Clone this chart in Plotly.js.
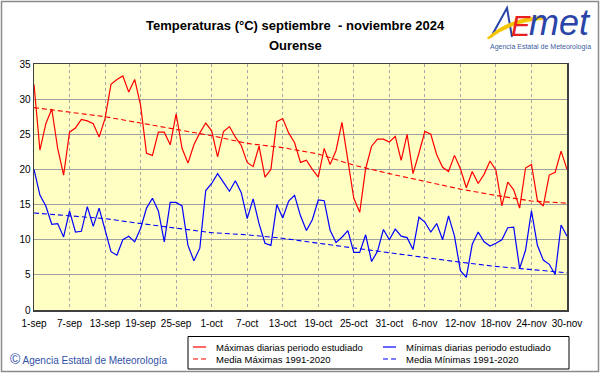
<!DOCTYPE html>
<html>
<head>
<meta charset="utf-8">
<script src="https://cdn.plot.ly/plotly-3.0.1.min.js"></script>
<style>html,body{margin:0;padding:0;background:#fff;}#chart{width:601px;height:374px;}</style>
</head>
<body>
<div id="chart"></div>
<script>
// Daily values, 1-sep .. 30-nov 2024 (91 days)
const startDate = '2024-09-01';
const tmax = [32.1,22.75,26.5,28.6,23.0,19.2,25.3,25.9,27.1,26.9,26.5,24.6,27.25,32.1,32.8,33.3,31.0,32.8,29.1,22.3,
  22.0,25.3,25.3,23.5,27.9,23.0,20.9,23.5,25.2,26.6,25.5,21.8,25.4,26.1,24.6,23.4,21.0,20.4,23.3,18.9,
  20.0,26.8,27.25,25.2,23.8,21.0,21.3,20.0,18.9,23.0,20.7,22.7,26.7,21.3,15.9,13.9,20.1,23.3,24.3,24.3,
  23.9,24.7,21.3,25.0,19.4,22.3,25.4,25.0,22.1,20.3,19.7,22.0,20.1,17.4,19.7,18.0,19.3,21.2,19.9,14.8,
  18.2,17.1,14.5,20.2,20.7,15.6,14.8,19.2,19.6,22.6,20.0];
const tmin = [20.0,16.35,14.8,12.2,12.3,10.4,14.1,11.1,11.2,14.7,11.9,14.5,11.4,8.3,7.8,10.0,10.5,9.7,11.6,14.5,
  15.9,14.1,9.7,15.3,15.3,14.8,9.2,7.0,8.8,17.0,18.0,19.4,18.15,16.9,18.4,16.7,13.0,15.8,12.3,9.5,
  9.2,15.0,13.1,15.5,16.3,13.4,11.3,12.85,15.65,15.55,11.35,9.6,10.35,11.3,8.2,8.2,10.7,6.9,8.35,11.45,
  10.0,11.5,10.5,10.3,8.6,13.2,12.5,11.1,12.3,10.0,13.4,10.5,5.6,4.65,9.35,11.1,9.7,9.1,9.5,10.0,
  11.7,11.8,5.9,8.5,14.1,9.2,7.1,6.5,5.05,12.1,10.5];
// Climatological means 1991-2020 (read at tick days)
const meanDays = [0,6,12,18,24,30,36,42,48,54,60,66,72,78,84,90];
const meanMax = [28.8,28.2,27.5,26.6,25.7,24.8,23.7,23.1,22.2,20.6,19.4,18.3,17.2,16.3,15.5,15.2];
const meanMin = [13.8,13.45,13.0,12.3,11.7,11.0,10.7,10.2,9.5,8.8,8.15,7.5,6.8,6.2,5.8,5.3];
const tickDays = [0,6,12,18,24,30,36,42,48,54,60,66,72,78,84,90];
const tickLabels = ['1-sep','7-sep','13-sep','19-sep','25-sep','1-oct','7-oct','13-oct','19-oct','25-oct','31-oct','6-nov','12-nov','18-nov','24-nov','30-nov'];
const yTicks = [0,5,10,15,20,25,30,35];
const seriesNames = ['Máximas diarias periodo estudiado','Mínimas diarias periodo estudiado','Media Máximas 1991-2020','Media Mínimas 1991-2020'];
const seriesColors = ['#ff0000','#0000ff','#ff0000','#0000ff'];
const seriesDash = ['solid','solid','5px,3px','5px,3px'];

function dayToDate(d){
  const t = new Date(startDate + 'T00:00:00Z');
  t.setUTCDate(t.getUTCDate() + d);
  return t.toISOString().slice(0,10);
}
const days = tmax.map((_, i) => dayToDate(i));
const mDays = meanDays.map(dayToDate);
const tDays = tickDays.map(dayToDate);

const F = 'Arial, "Liberation Sans", sans-serif';
const ys = [tmax, tmin, meanMax, meanMin];
const xs = [days, days, mDays, mDays];
const traces = ys.map((y, i) => ({
  x: xs[i], y: y, type:'scatter', mode:'lines', name: seriesNames[i], showlegend:false,
  line:{color: seriesColors[i], width: i < 2 ? 1.2 : 1.1, dash: seriesDash[i]}
}));

// pixel -> paper helpers for decorations
const L=34, R=567, T=64, B=310;
const px = p => (p - L) / (R - L);
const py = p => (B - p) / (B - T);

const annotations = [
  {xref:'paper', yref:'paper', x: px(295), y: py(26), xanchor:'center', yanchor:'middle', showarrow:false,
   text:'<b>Temperaturas (°C) septiembre\u00a0 - noviembre 2024</b>', font:{family:F, size:13, color:'#000'}},
  {xref:'paper', yref:'paper', x: px(295), y: py(45), xanchor:'center', yanchor:'middle', showarrow:false,
   text:'<b>Ourense</b>', font:{family:F, size:13, color:'#000'}},
  {xref:'paper', yref:'paper', x: px(8), y: py(359), xanchor:'left', yanchor:'middle', showarrow:false,
   text:'<span style="font-size:14px">©</span> Agencia Estatal de Meteorología', font:{family:F, size:10, color:'#3050a8'}},
  {xref:'paper', yref:'paper', x: px(521), y: py(26), xanchor:'center', yanchor:'middle', showarrow:false,
   text:'E', font:{family:F, size:29, color:'#e82020', style:'italic'}},
  {xref:'paper', yref:'paper', x: px(560), y: py(23), xanchor:'center', yanchor:'middle', showarrow:false,
   text:'met', font:{family:F, size:36, color:'#2a44a8', style:'italic'}},
  {xref:'paper', yref:'paper', x: px(540), y: py(47), xanchor:'center', yanchor:'middle', showarrow:false,
   text:'Agencia Estatal de Meteorología', font:{family:F, size:7, color:'#4060a0'}}
];

const shapes = [
  {type:'rect', xref:'paper', yref:'paper', x0:px(1.5), x1:px(598.5), y0:py(1.5), y1:py(371.5),
   line:{color:'#8a8a8a', width:1.5}, fillcolor:'rgba(0,0,0,0)', layer:'above'},
  {type:'path', xref:'paper', yref:'paper',
   path:`M${px(491)},${py(37)} L${px(507)},${py(8)} L${px(512)},${py(37)}`,
   line:{color:'#2a44a8', width:2}, fillcolor:'rgba(0,0,0,0)'},
  {type:'path', xref:'paper', yref:'paper',
   path:`M${px(487)},${py(38)} Q${px(508)},${py(18)} ${px(543)},${py(16)} L${px(543)},${py(19.5)} Q${px(511)},${py(22)} ${px(489)},${py(39)} Z`,
   line:{color:'#f5c400', width:0.5}, fillcolor:'#f5c400'},
  // legend box
  {type:'rect', xref:'paper', yref:'paper', x0:px(188), x1:px(569), y0:py(336.5), y1:py(369),
   line:{color:'#000', width:1}, fillcolor:'#fff'}
];

// legend entries: 2 columns x 2 rows
const legCol = [193, 383];
const legRow = [347, 359];
seriesNames.forEach((name, i) => {
  const cx = legCol[i % 2], cy = legRow[Math.floor(i / 2)];
  shapes.push({type:'line', xref:'paper', yref:'paper', x0:px(cx), x1:px(cx + 13), y0:py(cy), y1:py(cy),
    line:{color: seriesColors[i], width:1.2, dash: seriesDash[i]}});
  annotations.push({xref:'paper', yref:'paper', x: px(cx + 21), y: py(cy), xanchor:'left', yanchor:'middle',
    showarrow:false, text: name, font:{family:F, size:9.5, color:'#000'}});
});

const layout = {
  width: 601, height: 374,
  margin: {l: L, r: 601 - R, t: T, b: 374 - B, pad: 0, autoexpand:false},
  paper_bgcolor: '#ffffff',
  plot_bgcolor: '#ffffc4',
  font: {family: F, size: 10, color: '#000'},
  showlegend: false,
  xaxis: {type:'date', range:[dayToDate(0), dayToDate(90)], tickmode:'array', tickvals:tDays, ticktext:tickLabels,
    showgrid:true, gridcolor:'#a8a8a8', griddash:'dot', gridwidth:1, ticklabelstandoff:3,
    showline:true, mirror:true, linecolor:'#404040', linewidth:1.5, ticks:'', zeroline:false,
    tickfont:{family:F, size:10, color:'#000'}, fixedrange:true},
  yaxis: {range:[0,35], tickmode:'array', tickvals:yTicks, showgrid:true, gridcolor:'#a0a0a0', gridwidth:1,
    showline:true, mirror:true, linecolor:'#404040', linewidth:1.5, ticks:'', zeroline:false,
    tickfont:{family:F, size:10, color:'#000'}, fixedrange:true},
  annotations: annotations,
  shapes: shapes
};

Plotly.newPlot('chart', traces, layout, {staticPlot:true, displayModeBar:false});
</script>
</body>
</html>
